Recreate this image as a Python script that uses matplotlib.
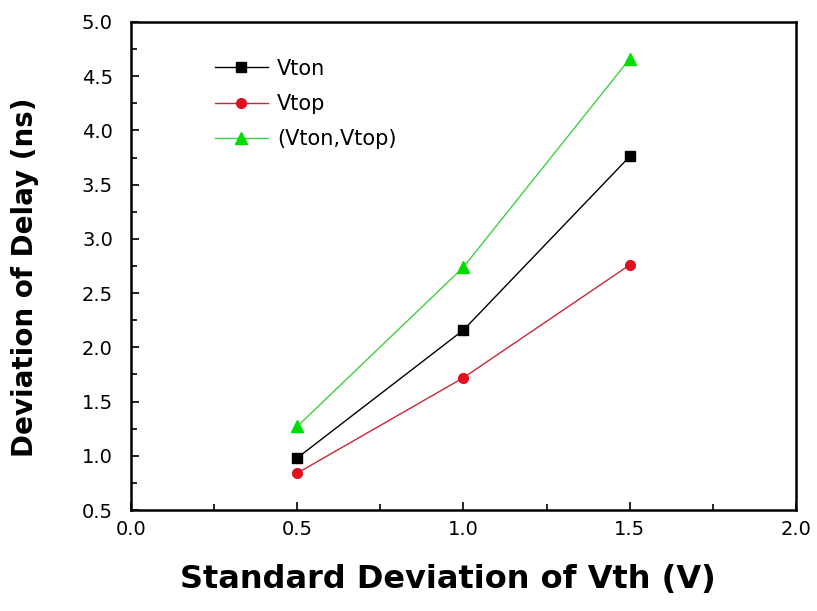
import matplotlib
matplotlib.use("Agg")
import matplotlib.pyplot as plt
from matplotlib.ticker import MultipleLocator

# Delay deviation versus threshold-voltage spread
sigma_vth = [0.5, 1.0, 1.5]
vton = [0.98, 2.16, 3.76]
vtop = [0.84, 1.72, 2.76]
vton_vtop = [1.27, 2.74, 4.66]

series_labels = ["Vton", "Vtop", "(Vton,Vtop)"]
xticks = [0.0, 0.5, 1.0, 1.5, 2.0]
yticks = [0.5, 1.0, 1.5, 2.0, 2.5, 3.0, 3.5, 4.0, 4.5, 5.0]

plt.rcParams["font.family"] = ["DejaVu Sans"]

fig = plt.figure(figsize=(8.17, 6.11), dpi=100)
ax = fig.add_axes([0.1603, 0.1653, 0.9743 - 0.1603, 0.964 - 0.1653])

ax.plot(sigma_vth, vton, color="black", lw=1.0, marker="s", ms=7,
        mfc="black", mec="black", label=series_labels[0])
ax.plot(sigma_vth, vtop, color="#c8283c", lw=1.0, marker="o", ms=7,
        mfc="#e0101e", mec="#e0101e", label=series_labels[1])
ax.plot(sigma_vth, vton_vtop, color="#40d040", lw=1.0, marker="^", ms=9,
        mfc="#00dd00", mec="#00dd00", label=series_labels[2])

ax.set_xlim(0.0, 2.0)
ax.set_ylim(0.5, 5.0)
ax.set_xticks(xticks)
ax.set_yticks(yticks)
ax.set_xticklabels([f"{v:.1f}" for v in xticks])
ax.set_yticklabels([f"{v:.1f}" for v in yticks])
ax.xaxis.set_minor_locator(MultipleLocator(0.25))
ax.yaxis.set_minor_locator(MultipleLocator(0.25))
ax.tick_params(which="both", direction="in", top=False, right=False,
               labelsize=14, width=1.2)
ax.tick_params(axis="y", which="major", pad=13)
ax.tick_params(axis="x", which="major", pad=7)
ax.tick_params(which="major", length=6)
ax.tick_params(which="minor", length=4)
for s in ax.spines.values():
    s.set_linewidth(1.8)

ax.set_xlabel("Standard Deviation of Vth (V)", fontsize=23, fontweight="bold")
ax.set_ylabel("Deviation of Delay (ns)", fontsize=20, fontweight="bold")
ax.xaxis.label.set_va("center")
ax.yaxis.label.set_va("center")
ax.xaxis.set_label_coords(0.477, -0.143)
ax.yaxis.set_label_coords(-0.159, 0.477)

ax.legend(loc="upper left", bbox_to_anchor=(0.126, 0.925), frameon=False,
          fontsize=15, handlelength=2.55, labelspacing=0.74, handletextpad=0.45,
          borderpad=0, borderaxespad=0)

fig.savefig("out.png", dpi=100)
